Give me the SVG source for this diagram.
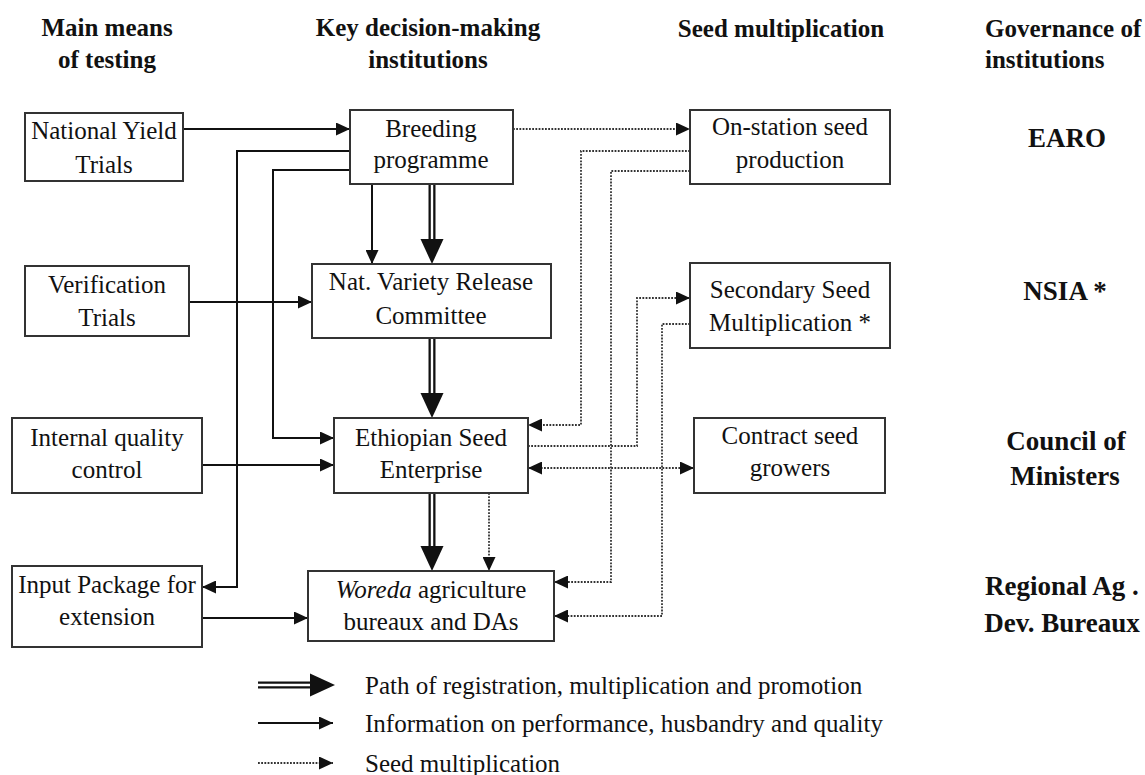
<svg xmlns="http://www.w3.org/2000/svg" width="1145" height="775" viewBox="0 0 1145 775">
<style>
  text { font-family: "Liberation Serif", "Times New Roman", serif; font-size: 25px; fill: #111; }
  .hd { font-weight: bold; }
  .gov { font-weight: bold; font-size: 27px; text-anchor: middle; }
  .c { text-anchor: middle; }
  .box { fill: #fff; stroke: #333; stroke-width: 2; }
  .info { fill: none; stroke: #111; stroke-width: 2; }
  .seed { fill: none; stroke: #333; stroke-width: 1.8; stroke-dasharray: 1.8 1.4; }
  .path-out { fill: none; stroke: #111; stroke-width: 7; }
  .path-in { fill: none; stroke: #fff; stroke-width: 2.4; }
</style>
<defs>
  <marker id="ah" viewBox="0 0 14 13" refX="14" refY="6.5" markerWidth="14" markerHeight="13" markerUnits="userSpaceOnUse" orient="auto-start-reverse">
    <path d="M0,0 L14,6.5 L0,13 z" fill="#111"/>
  </marker>
  <marker id="big" viewBox="0 -12 25 24" refX="0" refY="0" markerWidth="25" markerHeight="24" markerUnits="userSpaceOnUse" orient="auto">
    <path d="M0,-11.5 L25,0 L0,11.5 z" fill="#111"/>
  </marker>
</defs>

<g id="headers">
  <text class="hd c" x="107" y="36">Main means</text>
  <text class="hd c" x="107" y="68">of testing</text>
  <text class="hd c" x="428" y="36">Key decision-making</text>
  <text class="hd c" x="428" y="68">institutions</text>
  <text class="hd c" x="781" y="37">Seed multiplication</text>
  <text class="hd" x="985" y="37">Governance of</text>
  <text class="hd" x="985" y="68">institutions</text>
</g>

<g id="governance">
  <text class="gov" x="1067" y="147">EARO</text>
  <text class="gov" x="1065" y="300">NSIA *</text>
  <text class="gov" x="1066" y="450">Council of</text>
  <text class="gov" x="1065" y="485">Ministers</text>
  <text class="gov" x="1062" y="595">Regional Ag .</text>
  <text class="gov" x="1062" y="632">Dev. Bureaux</text>
</g>

<g id="connectors">
  <!-- information (solid) -->
  <path class="info" d="M183,129 H350" marker-end="url(#ah)"/>
  <path class="info" d="M350,151 H237 V587 H202" marker-end="url(#ah)"/>
  <path class="info" d="M350,170 H273 V438 H334" marker-end="url(#ah)"/>
  <path class="info" d="M372,184 V264" marker-end="url(#ah)"/>
  <path class="info" d="M189,302 H312" marker-end="url(#ah)"/>
  <path class="info" d="M202,465 H334" marker-end="url(#ah)"/>
  <path class="info" d="M202,618 H308" marker-end="url(#ah)"/>
  <!-- registration path (double) -->
  <path class="path-out" d="M432,184 V239" marker-end="url(#big)"/>
  <path class="path-in" d="M432,184 V239"/>
  <path class="path-out" d="M432,338 V393" marker-end="url(#big)"/>
  <path class="path-in" d="M432,338 V393"/>
  <path class="path-out" d="M432,493 V546" marker-end="url(#big)"/>
  <path class="path-in" d="M432,493 V546"/>
  <!-- seed multiplication (dotted) -->
  <path class="seed" d="M513,129 H690" marker-end="url(#ah)"/>
  <path class="seed" d="M690,151 H581 V425 H528" marker-end="url(#ah)"/>
  <path class="seed" d="M690,171 H611 V582 H554" marker-end="url(#ah)"/>
  <path class="seed" d="M528,446 H637 V298 H690" marker-end="url(#ah)"/>
  <path class="seed" d="M690,324 H662 V616 H554" marker-end="url(#ah)"/>
  <path class="seed" d="M528,468 H694" marker-start="url(#ah)" marker-end="url(#ah)"/>
  <path class="seed" d="M489,493 V571" marker-end="url(#ah)"/>
</g>

<g id="nyt">
  <rect class="box" x="25" y="113" width="158" height="68"/>
  <text class="c" x="104" y="139">National Yield</text>
  <text class="c" x="104" y="173">Trials</text>
</g>
<g id="breeding">
  <rect class="box" x="350" y="110" width="163" height="74"/>
  <text class="c" x="431" y="137">Breeding</text>
  <text class="c" x="431" y="168">programme</text>
</g>
<g id="onstation">
  <rect class="box" x="690" y="110" width="200" height="74"/>
  <text class="c" x="790" y="135">On-station seed</text>
  <text class="c" x="790" y="168">production</text>
</g>
<g id="verification">
  <rect class="box" x="25" y="266" width="164" height="70"/>
  <text class="c" x="107" y="293">Verification</text>
  <text class="c" x="107" y="326">Trials</text>
</g>
<g id="nvrc">
  <rect class="box" x="312" y="264" width="239" height="74"/>
  <text class="c" x="431" y="290">Nat. Variety Release</text>
  <text class="c" x="431" y="324">Committee</text>
</g>
<g id="secondary">
  <rect class="box" x="690" y="263" width="200" height="85"/>
  <text class="c" x="790" y="298">Secondary Seed</text>
  <text class="c" x="790" y="331">Multiplication *</text>
</g>
<g id="iqc">
  <rect class="box" x="12" y="418" width="190" height="75"/>
  <text class="c" x="107" y="446">Internal quality</text>
  <text class="c" x="107" y="478">control</text>
</g>
<g id="ese">
  <rect class="box" x="334" y="418" width="194" height="75"/>
  <text class="c" x="431" y="446">Ethiopian Seed</text>
  <text class="c" x="431" y="478">Enterprise</text>
</g>
<g id="contract">
  <rect class="box" x="694" y="418" width="191" height="75"/>
  <text class="c" x="790" y="444">Contract seed</text>
  <text class="c" x="790" y="476">growers</text>
</g>
<g id="input">
  <rect class="box" x="12" y="566" width="190" height="81"/>
  <text class="c" x="107" y="593">Input Package for</text>
  <text class="c" x="107" y="625">extension</text>
</g>
<g id="woreda">
  <rect class="box" x="308" y="571" width="246" height="70"/>
  <text class="c" x="431" y="598"><tspan font-style="italic">Woreda</tspan> agriculture</text>
  <text class="c" x="431" y="630">bureaux and DAs</text>
</g>

<g id="legend">
  <path class="path-out" d="M258,685 H310" marker-end="url(#big)"/>
  <path class="path-in" d="M258,685 H310"/>
  <text x="365" y="694">Path of registration, multiplication and promotion</text>
  <path class="info" d="M258,723 H333" marker-end="url(#ah)"/>
  <text x="365" y="732">Information on performance, husbandry and quality</text>
  <path class="seed" d="M258,763 H333" marker-end="url(#ah)"/>
  <text x="365" y="772">Seed multiplication</text>
</g>
</svg>
